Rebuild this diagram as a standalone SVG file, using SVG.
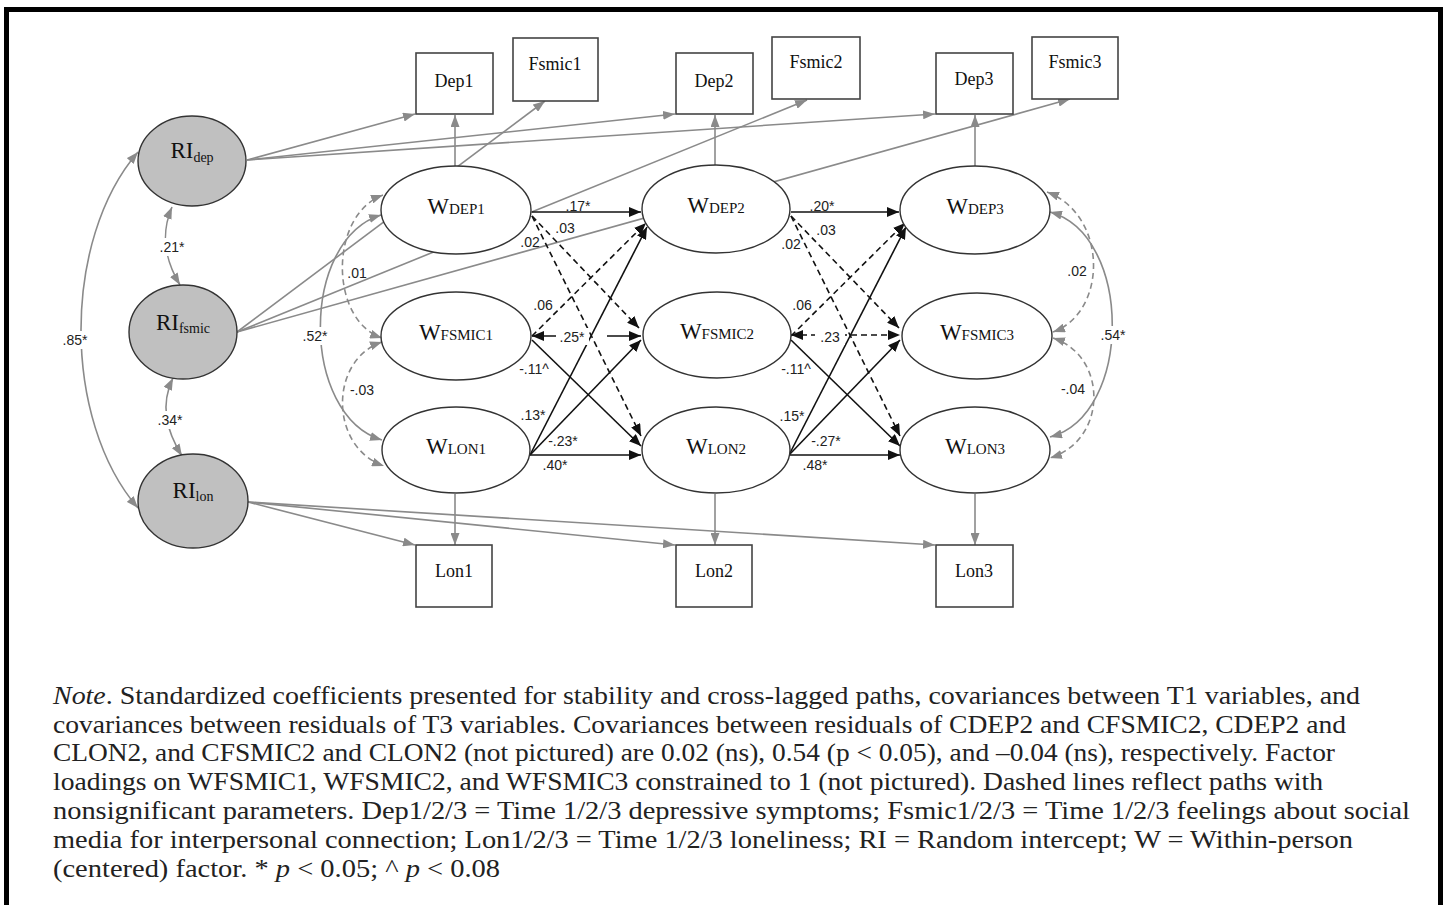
<svg xmlns="http://www.w3.org/2000/svg" width="1447" height="905" viewBox="0 0 1447 905">
<style>
.g{stroke:#8a8a8a;stroke-width:1.6;fill:none}
.k{stroke:#111;stroke-width:1.6;fill:none}
.d{stroke-dasharray:6,4}
.ga{marker-end:url(#ag)}
.gs{marker-start:url(#agS)}
.ka{marker-end:url(#ak)}
.ks{marker-start:url(#akS)}
.box{fill:#fff;stroke:#444;stroke-width:1.6}
.we{fill:#fff;stroke:#333;stroke-width:1.4}
.ri{fill:#c0c0c0;stroke:#333;stroke-width:1.4}
.bt{font-family:"Liberation Serif",serif;font-size:18px;fill:#111;text-anchor:middle}
.wt{font-family:"Liberation Serif",serif;font-size:23px;fill:#111;text-anchor:middle}
.sub{font-size:15px}
.rsub{font-size:14px}
.lb{font-family:"Liberation Sans",Arial,sans-serif;font-size:14px;fill:#222;text-anchor:middle}
.bg{fill:#fff}
.note{font-family:"Liberation Serif",serif;font-size:25px;fill:#222}
</style>
<defs>
<marker id="ag" markerUnits="userSpaceOnUse" markerWidth="12" markerHeight="9" refX="12" refY="4.5" orient="auto"><path d="M0,0 L12,4.5 L0,9 z" fill="#8a8a8a"/></marker>
<marker id="agS" markerUnits="userSpaceOnUse" markerWidth="12" markerHeight="9" refX="12" refY="4.5" orient="auto-start-reverse"><path d="M0,0 L12,4.5 L0,9 z" fill="#8a8a8a"/></marker>
<marker id="ak" markerUnits="userSpaceOnUse" markerWidth="12" markerHeight="10" refX="12" refY="5" orient="auto"><path d="M0,0 L12,5 L0,10 z" fill="#111"/></marker>
<marker id="akS" markerUnits="userSpaceOnUse" markerWidth="12" markerHeight="10" refX="12" refY="5" orient="auto-start-reverse"><path d="M0,0 L12,5 L0,10 z" fill="#111"/></marker>
</defs>
<rect x="0" y="0" width="1447" height="905" fill="#fff"/>
<rect x="6.5" y="9.5" width="1434" height="910" fill="none" stroke="#000" stroke-width="5"/>

<g id="connectors">
<line class="g ga" x1="247" y1="160" x2="415" y2="114"/>
<line class="g ga" x1="247" y1="160" x2="675" y2="114"/>
<line class="g ga" x1="247" y1="160" x2="935" y2="114"/>
<line class="g ga" x1="237" y1="332" x2="545" y2="101"/>
<line class="g ga" x1="237" y1="332" x2="807" y2="100"/>
<line class="g ga" x1="237" y1="332" x2="1070" y2="99"/>
<line class="g ga" x1="248" y1="502" x2="415" y2="545"/>
<line class="g ga" x1="248" y1="502" x2="675" y2="545"/>
<line class="g ga" x1="248" y1="502" x2="935" y2="545"/>
<line class="g ga" x1="455" y1="166" x2="455" y2="115"/>
<line class="g ga" x1="715" y1="166" x2="715" y2="115"/>
<line class="g ga" x1="975" y1="166" x2="975" y2="115"/>
<line class="g ga" x1="455" y1="494" x2="455" y2="545"/>
<line class="g ga" x1="715" y1="494" x2="715" y2="545"/>
<line class="g ga" x1="975" y1="494" x2="975" y2="545"/>
<path class="g ga gs" d="M138,152 C62,240 62,420 138,508"/>
<path class="g ga gs" d="M172,207 C160,235 165,260 180,285"/>
<path class="g ga gs" d="M173,378 C160,405 166,430 182,456"/>
<path class="g ga gs" d="M381,215 C300,240 300,415 382,440"/>
<path class="g d ga gs" d="M383,195 C329,215 329,320 382,338"/>
<path class="g d ga gs" d="M382,342 C329,360 329,447 384,466"/>
<path class="g ga gs" d="M1050,212 C1133,235 1133,415 1050,437"/>
<path class="g d ga gs" d="M1047,192 C1108,215 1108,312 1053,332"/>
<path class="g d ga gs" d="M1053,338 C1108,356 1108,440 1050,458"/>
<line class="k ka" x1="532" y1="212" x2="641" y2="212"/>
<line class="k d ka" x1="532" y1="216" x2="639" y2="328"/>
<line class="k d ka" x1="532" y1="216" x2="641" y2="436"/>
<line class="k d ka" x1="532" y1="336" x2="646" y2="223"/>
<line class="k ka ks" x1="532" y1="336" x2="641" y2="336" stroke-dasharray="24 51 40"/>
<line class="k ka" x1="532" y1="340" x2="641" y2="446"/>
<line class="k ka" x1="530" y1="455" x2="647" y2="227"/>
<line class="k ka" x1="530" y1="455" x2="641" y2="340"/>
<line class="k ka" x1="530" y1="455" x2="641" y2="455"/>
<line class="k ka" x1="791" y1="212" x2="899" y2="212"/>
<line class="k d ka" x1="791" y1="216" x2="899" y2="328"/>
<line class="k d ka" x1="791" y1="216" x2="900" y2="436"/>
<line class="k d ka" x1="791" y1="336" x2="905" y2="223"/>
<line class="k d ka ks" x1="791" y1="335" x2="900" y2="335"/>
<line class="k ka" x1="791" y1="340" x2="900" y2="446"/>
<line class="k ka" x1="789" y1="455" x2="906" y2="227"/>
<line class="k ka" x1="789" y1="455" x2="900" y2="340"/>
<line class="k ka" x1="789" y1="455" x2="900" y2="455"/>
</g>

<g id="labels">
<rect class="bg" x="58" y="331" width="34" height="18"/>
<text class="lb" x="75" y="345">.85*</text>
<rect class="bg" x="155" y="238" width="34" height="18"/>
<text class="lb" x="172" y="252">.21*</text>
<rect class="bg" x="153" y="411" width="34" height="18"/>
<text class="lb" x="170" y="425">.34*</text>
<rect class="bg" x="298" y="327" width="34" height="18"/>
<text class="lb" x="315" y="341">.52*</text>
<text class="lb" x="357" y="278">.01</text>
<text class="lb" x="362" y="395">-.03</text>
<rect class="bg" x="1096" y="326" width="34" height="18"/>
<text class="lb" x="1113" y="340">.54*</text>
<text class="lb" x="1077" y="276">.02</text>
<text class="lb" x="1073" y="394">-.04</text>
<text class="lb" x="578" y="211">.17*</text>
<text class="lb" x="565" y="233">.03</text>
<text class="lb" x="530" y="247">.02</text>
<text class="lb" x="543" y="310">.06</text>
<rect class="bg" x="556" y="328" width="33" height="17"/>
<text class="lb" x="572" y="342">.25*</text>
<text class="lb" x="534" y="374">-.11^</text>
<text class="lb" x="533" y="420">.13*</text>
<text class="lb" x="563" y="446">-.23*</text>
<text class="lb" x="555" y="470">.40*</text>
<text class="lb" x="822" y="211">.20*</text>
<text class="lb" x="826" y="235">.03</text>
<text class="lb" x="791" y="249">.02</text>
<text class="lb" x="802" y="310">.06</text>
<rect class="bg" x="815" y="328" width="30" height="17"/>
<text class="lb" x="830" y="342">.23</text>
<text class="lb" x="796" y="374">-.11^</text>
<text class="lb" x="792" y="421">.15*</text>
<text class="lb" x="826" y="446">-.27*</text>
<text class="lb" x="815" y="470">.48*</text>
</g>

<g id="Dep1"><rect class="box" x="416" y="53" width="77" height="61"/><text class="bt" x="454" y="87">Dep1</text></g>
<g id="Fsmic1"><rect class="box" x="513" y="38" width="85" height="63"/><text class="bt" x="555" y="70">Fsmic1</text></g>
<g id="Dep2"><rect class="box" x="676" y="53" width="77" height="61"/><text class="bt" x="714" y="87">Dep2</text></g>
<g id="Fsmic2"><rect class="box" x="772" y="37" width="88" height="62"/><text class="bt" x="816" y="68">Fsmic2</text></g>
<g id="Dep3"><rect class="box" x="936" y="53" width="77" height="61"/><text class="bt" x="974" y="85">Dep3</text></g>
<g id="Fsmic3"><rect class="box" x="1032" y="37" width="86" height="62"/><text class="bt" x="1075" y="68">Fsmic3</text></g>
<g id="Lon1"><rect class="box" x="416" y="545" width="76" height="62"/><text class="bt" x="454" y="577">Lon1</text></g>
<g id="Lon2"><rect class="box" x="676" y="545" width="76" height="62"/><text class="bt" x="714" y="577">Lon2</text></g>
<g id="Lon3"><rect class="box" x="936" y="545" width="77" height="62"/><text class="bt" x="974" y="577">Lon3</text></g>

<g id="RIdep"><ellipse class="ri" cx="192" cy="161" rx="54" ry="45"/><text class="wt" x="192" y="158" font-size="21">RI<tspan class="rsub" dy="4">dep</tspan></text></g>
<g id="RIfsmic"><ellipse class="ri" cx="183" cy="332" rx="54" ry="47"/><text class="wt" x="183" y="330" font-size="21">RI<tspan class="rsub" dy="3">fsmic</tspan></text></g>
<g id="RIlon"><ellipse class="ri" cx="193" cy="501" rx="55" ry="47"/><text class="wt" x="193" y="498" font-size="21">RI<tspan class="rsub" dy="3">lon</tspan></text></g>

<g id="WDEP1"><ellipse class="we" cx="456" cy="210" rx="75" ry="44"/><text class="wt" x="456" y="214">W<tspan class="sub">DEP1</tspan></text></g>
<g id="WFSMIC1"><ellipse class="we" cx="456" cy="336" rx="75" ry="44"/><text class="wt" x="456" y="340">W<tspan class="sub">FSMIC1</tspan></text></g>
<g id="WLON1"><ellipse class="we" cx="456" cy="450" rx="74" ry="43"/><text class="wt" x="456" y="454">W<tspan class="sub">LON1</tspan></text></g>
<g id="WDEP2"><ellipse class="we" cx="716" cy="209" rx="74" ry="44"/><text class="wt" x="716" y="213">W<tspan class="sub">DEP2</tspan></text></g>
<g id="WFSMIC2"><ellipse class="we" cx="717" cy="335" rx="74" ry="43"/><text class="wt" x="717" y="339">W<tspan class="sub">FSMIC2</tspan></text></g>
<g id="WLON2"><ellipse class="we" cx="716" cy="450" rx="74" ry="43"/><text class="wt" x="716" y="454">W<tspan class="sub">LON2</tspan></text></g>
<g id="WDEP3"><ellipse class="we" cx="975" cy="210" rx="75" ry="44"/><text class="wt" x="975" y="214">W<tspan class="sub">DEP3</tspan></text></g>
<g id="WFSMIC3"><ellipse class="we" cx="977" cy="336" rx="75" ry="43"/><text class="wt" x="977" y="340">W<tspan class="sub">FSMIC3</tspan></text></g>
<g id="WLON3"><ellipse class="we" cx="975" cy="450" rx="75" ry="43"/><text class="wt" x="975" y="454">W<tspan class="sub">LON3</tspan></text></g>

<g id="note">
<text class="note" x="53" y="704" textLength="1307" lengthAdjust="spacingAndGlyphs"><tspan font-style="italic">Note</tspan>. Standardized coefficients presented for stability and cross-lagged paths, covariances between T1 variables, and</text>
<text class="note" x="53" y="733" textLength="1293" lengthAdjust="spacingAndGlyphs">covariances between residuals of T3 variables. Covariances between residuals of CDEP2 and CFSMIC2, CDEP2 and</text>
<text class="note" x="53" y="761" textLength="1282" lengthAdjust="spacingAndGlyphs">CLON2, and CFSMIC2 and CLON2 (not pictured) are 0.02 (ns), 0.54 (p &lt; 0.05), and –0.04 (ns), respectively. Factor</text>
<text class="note" x="53" y="790" textLength="1270" lengthAdjust="spacingAndGlyphs">loadings on WFSMIC1, WFSMIC2, and WFSMIC3 constrained to 1 (not pictured). Dashed lines reflect paths with</text>
<text class="note" x="53" y="819" textLength="1357" lengthAdjust="spacingAndGlyphs">nonsignificant parameters. Dep1/2/3 = Time 1/2/3 depressive symptoms; Fsmic1/2/3 = Time 1/2/3 feelings about social</text>
<text class="note" x="53" y="848" textLength="1300" lengthAdjust="spacingAndGlyphs">media for interpersonal connection; Lon1/2/3 = Time 1/2/3 loneliness; RI = Random intercept; W = Within-person</text>
<text class="note" x="53" y="877" textLength="447" lengthAdjust="spacingAndGlyphs">(centered) factor. * <tspan font-style="italic">p</tspan> &lt; 0.05; ^ <tspan font-style="italic">p</tspan> &lt; 0.08</text>
</g>
</svg>
